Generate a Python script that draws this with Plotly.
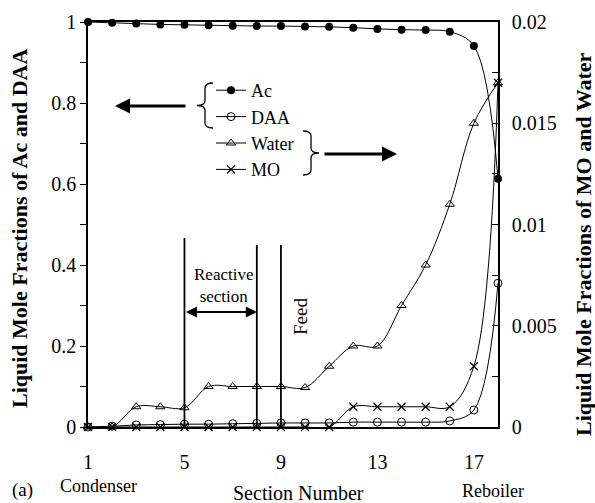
import plotly.graph_objects as go

# ---------------- data ----------------
section = list(range(1, 19))
ac = [1.0, 0.998, 0.996, 0.994, 0.993, 0.992, 0.991, 0.990, 0.990, 0.989,
      0.988, 0.986, 0.983, 0.981, 0.980, 0.976, 0.941, 0.613]
daa = [0.0, 0.002, 0.005, 0.006, 0.007, 0.007, 0.008, 0.009, 0.010, 0.010,
       0.010, 0.012, 0.012, 0.012, 0.012, 0.015, 0.042, 0.355]
water = [0.0, 0.0, 0.0010, 0.0010, 0.00095, 0.0020, 0.0020, 0.0020, 0.0020, 0.00195,
         0.0030, 0.0040, 0.0040, 0.0060, 0.0080, 0.0110, 0.0150, 0.0170]
mo = [0.0, 0.0, 0.0, 0.0, 0.0, 0.0, 0.0, 0.0, 0.0, 0.0,
      0.0, 0.0010, 0.0010, 0.0010, 0.0010, 0.0010, 0.0030, 0.0170]

x_tickvals = [1, 5, 9, 13, 17]
left_tickvals = [0, 0.2, 0.4, 0.6, 0.8, 1.0]
left_ticktext = ["0", "0.2", "0.4", "0.6", "0.8", "1"]
right_tickvals = [0, 0.005, 0.01, 0.015, 0.02]
right_ticktext = ["0", "0.005", "0.01", "0.015", "0.02"]

FONT = "Liberation Serif"
BLACK = "#000000"

# plot-area geometry in pixels (for converting annotation positions)
W, H = 595, 503
L, R, T, B = 88, 97, 22, 76
PW, PH = W - L - R, H - T - B


def px(xp):
    return (xp - L) / PW


def py(yp):
    return (H - B - yp) / PH


fig = go.Figure()

line_common = dict(color=BLACK, width=1, shape="spline", smoothing=1)

fig.add_trace(go.Scatter(
    x=section, y=ac, name="Ac", mode="lines+markers", line=line_common,
    marker=dict(symbol="circle", size=8, color=BLACK),
    cliponaxis=False, yaxis="y"))
fig.add_trace(go.Scatter(
    x=section, y=daa, name="DAA", mode="lines+markers", line=line_common,
    marker=dict(symbol="circle-open", size=8, color=BLACK, line=dict(width=1)),
    cliponaxis=False, yaxis="y"))
fig.add_trace(go.Scatter(
    x=section, y=water, name="Water", mode="lines+markers", line=line_common,
    marker=dict(symbol="triangle-up-open", size=8, color=BLACK, line=dict(width=1)),
    cliponaxis=False, yaxis="y2"))
fig.add_trace(go.Scatter(
    x=section, y=mo, name="MO", mode="lines+markers", line=line_common,
    marker=dict(symbol="x-thin-open", size=8, color=BLACK, line=dict(width=1.2, color=BLACK)),
    cliponaxis=False, yaxis="y2"))

# vertical section lines
shapes = []
for xv, ytop in [(5, py(238)), (8, py(245)), (9, py(245))]:
    shapes.append(dict(type="line", xref="x", yref="y", x0=xv, x1=xv, y0=0, y1=ytop,
                       line=dict(color=BLACK, width=1.8)))


def brace(x_arm, x_v, x_tip, y_top, y_bot, r=5):
    ym = (y_top + y_bot) / 2
    pts = [
        f"M {px(x_arm)},{py(y_top)}",
        f"Q {px(x_v)},{py(y_top)} {px(x_v)},{py(y_top + r)}",
        f"L {px(x_v)},{py(ym - r)}",
        f"Q {px(x_v)},{py(ym)} {px(x_tip)},{py(ym)}",
        f"Q {px(x_v)},{py(ym)} {px(x_v)},{py(ym + r)}",
        f"L {px(x_v)},{py(y_bot - r)}",
        f"Q {px(x_v)},{py(y_bot)} {px(x_arm)},{py(y_bot)}",
    ]
    return dict(type="path", xref="paper", yref="paper", path=" ".join(pts),
                line=dict(color=BLACK, width=1.3))


shapes.append(brace(213, 205, 197, 83, 128))
shapes.append(brace(303, 311, 319, 131, 175))

ann = []
# left arrow (Ac, DAA -> left axis)
ann.append(dict(x=px(115), y=py(106), xref="paper", yref="paper", ax=72, ay=0,
                showarrow=True, arrowhead=2, arrowsize=1, arrowwidth=3, arrowcolor=BLACK, text=""))
# right arrow (Water, MO -> right axis)
ann.append(dict(x=px(397), y=py(154), xref="paper", yref="paper", ax=-74, ay=0,
                showarrow=True, arrowhead=2, arrowsize=1, arrowwidth=3, arrowcolor=BLACK, text=""))
# reactive section double arrow
y_arr = py(312)
ann.append(dict(x=8, y=y_arr, xref="x", yref="y", ax=5, ay=y_arr, axref="x", ayref="y",
                showarrow=True, arrowhead=2, arrowside="end+start", arrowsize=1, arrowwidth=2.2,
                arrowcolor=BLACK, text="", standoff=0, startstandoff=0))


def label(xp, yp, text, size, angle=0):
    return dict(x=px(xp), y=py(yp), xref="paper", yref="paper", showarrow=False,
                xanchor="center", yanchor="middle", textangle=angle, text=text,
                font=dict(family=FONT, size=size, color=BLACK))


ann.append(label(223, 285, "Reactive<br>section", 17))
ann.append(label(300, 317, "Feed", 19, -90))
# bottom labels
ann.append(label(98, 486, "Condenser", 18))
ann.append(label(493, 491, "Reboiler", 18))
ann.append(label(298, 493, "Section Number", 20))
ann.append(label(22, 490, "(a)", 19))
# axis titles
ann.append(label(20, 229, "<b>Liquid Mole Fractions of Ac and DAA</b>", 22, -90))
ann.append(label(583, 244, "<b>Liquid Mole Fractions of MO and Water</b>", 22, -90))

fig.update_layout(
    width=W, height=H,
    margin=dict(l=L, r=R, t=T, b=B, pad=0),
    paper_bgcolor="white", plot_bgcolor="white",
    font=dict(family=FONT, size=20, color=BLACK),
    showlegend=True,
    legend=dict(x=px(211), y=py(72), xanchor="left", yanchor="top",
                font=dict(family=FONT, size=18, color=BLACK),
                bgcolor="rgba(0,0,0,0)", itemwidth=30, traceorder="normal"),
    xaxis=dict(range=[1, 18], tickvals=x_tickvals, ticks="", showgrid=False, zeroline=False,
               showline=True, linecolor=BLACK, linewidth=1.5, mirror=True,
               ticklabelstandoff=16, tickfont=dict(family=FONT, size=20, color=BLACK)),
    yaxis=dict(range=[0, 1], tickvals=left_tickvals, ticktext=left_ticktext,
               ticks="outside", ticklen=6, tickcolor=BLACK, tickwidth=1,
               minor=dict(dtick=0.1, ticks="outside", ticklen=6, tickcolor=BLACK, tickwidth=1),
               showgrid=False, zeroline=False, showline=True, linecolor=BLACK, linewidth=1.5,
               tickfont=dict(family=FONT, size=20, color=BLACK)),
    yaxis2=dict(range=[0, 0.02], overlaying="y", side="right", tickvals=right_tickvals,
                ticktext=right_ticktext, ticks="inside", ticklen=6, tickcolor=BLACK, tickwidth=1,
                minor=dict(dtick=0.0025, ticks="inside", ticklen=6, tickcolor=BLACK, tickwidth=1),
                showgrid=False, zeroline=False, showline=True, linecolor=BLACK, linewidth=1.5,
                ticklabelstandoff=8, tickfont=dict(family=FONT, size=20, color=BLACK)),
    shapes=shapes,
    annotations=ann,
)

fig.write_html("out.html")
